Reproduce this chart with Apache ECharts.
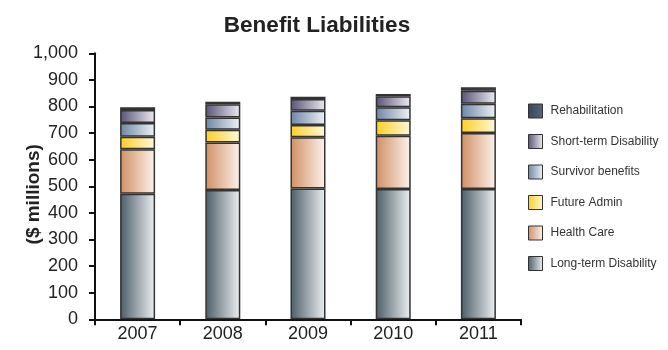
<!DOCTYPE html>
<html>
<head>
<meta charset="utf-8">
<script src="https://cdn.jsdelivr.net/npm/echarts@6/dist/echarts.min.js"></script>
<style>html,body{margin:0;padding:0;background:#fff;}#c{width:668px;height:350px;}</style>
</head>
<body>
<div id="c"></div>
<script>
const categories = ['2007', '2008', '2009', '2010', '2011'];
const longTermDisability = [472, 486, 492, 490, 490];
const healthCare = [167, 179, 192, 200, 210];
const futureAdmin = [47, 48, 46, 58, 56];
const survivorBenefits = [52, 46, 54, 49, 54];
const shortTermDisability = [49, 49, 44, 42, 49];
const rehabilitation = [10, 10, 9, 8, 13];
const yTicks = [0, 100, 200, 300, 400, 500, 600, 700, 800, 900, 1000];

function grad(a, b) {
  return { type: 'linear', x: 0, y: 0, x2: 1, y2: 0, colorStops: [{ offset: 0, color: a }, { offset: 1, color: b }] };
}
const FONT = 'Liberation Sans, Arial, sans-serif';
function mk(name, data, c1, c2) {
  return {
    name: name, type: 'bar', stack: 'total', data: data, barWidth: 35,
    itemStyle: { color: grad(c1, c2), borderColor: '#333', borderWidth: 1.5 },
    emphasis: { disabled: true }
  };
}
const chart = echarts.init(document.getElementById('c'));
chart.setOption({
  animation: false,
  title: {
    text: 'Benefit Liabilities', left: 312, top: 9, textAlign: 'center',
    textStyle: { fontFamily: FONT, fontSize: 22.5, fontWeight: 'bold', color: '#222' }
  },
  legend: {
    orient: 'vertical', left: 523, top: 98.5, itemWidth: 14, itemHeight: 14, itemGap: 15.5,
    icon: 'rect',
    data: ['Rehabilitation', 'Short-term Disability', 'Survivor benefits', 'Future Admin', 'Health Care', 'Long-term Disability'],
    textStyle: { fontFamily: FONT, fontSize: 12, color: '#333', padding: [0, 0, 0, 3] },
    itemStyle: { borderColor: '#333', borderWidth: 1 }
  },
  grid: { left: 95, right: 147, top: 53.3, bottom: 30.7, containLabel: false, outerBoundsMode: 'none' },
  xAxis: {
    type: 'category', data: categories,
    axisLine: { lineStyle: { color: '#111', width: 2 } },
    axisTick: { show: true, length: 6, lineStyle: { color: '#111', width: 2 } },
    axisLabel: { fontFamily: FONT, fontSize: 18, color: '#222', margin: 6 }
  },
  yAxis: {
    type: 'value', min: 0, max: 1000, interval: 100,
    name: '($ millions)', nameLocation: 'middle', nameRotate: 90, nameGap: 52,
    nameMoveOverlap: false,
    nameTextStyle: { fontFamily: FONT, fontSize: 19, fontWeight: 'bold', color: '#222', padding: [0, 16, 0, 0] },
    axisLine: { show: true, lineStyle: { color: '#111', width: 2 } },
    axisTick: { show: true, length: 6, lineStyle: { color: '#111', width: 2 } },
    splitLine: { show: false },
    axisLabel: {
      fontFamily: FONT, fontSize: 18, color: '#222', margin: 17,
      formatter: function (v) { return yTicks.indexOf(v) >= 0 ? v.toLocaleString('en-US') : ''; }
    }
  },
  series: [
    mk('Long-term Disability', longTermDisability, '#4b5d66', '#eef1f3'),
    mk('Health Care', healthCare, '#d08f63', '#fdf3ed'),
    mk('Future Admin', futureAdmin, '#fdcf22', '#fff8dc'),
    mk('Survivor benefits', survivorBenefits, '#6c86a6', '#eef2f7'),
    mk('Short-term Disability', shortTermDisability, '#595274', '#eeecf3'),
    mk('Rehabilitation', rehabilitation, '#34465a', '#56677a')
  ]
});
</script>
</body>
</html>
